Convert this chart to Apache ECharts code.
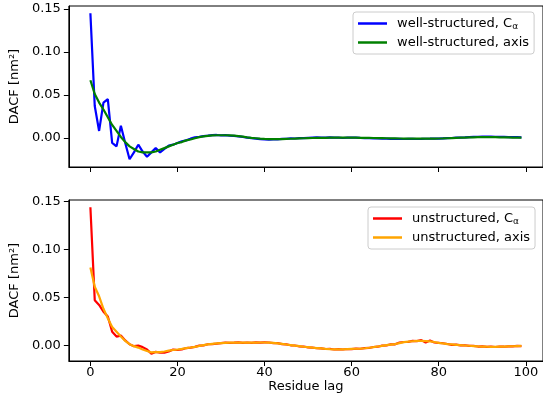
<!DOCTYPE html>
<html>
<head>
<meta charset="utf-8">
<script src="https://cdn.jsdelivr.net/npm/echarts@6/dist/echarts.min.js"></script>
<style>
html,body{margin:0;padding:0;background:#fff;}
#chart{width:543px;height:405px;}
</style>
</head>
<body>
<div id="chart"></div>
<script>
var xTicks = [0, 20, 40, 60, 80, 100];
var yTicks = [0, 0.05, 0.10, 0.15];

var wellCa = [0.145,0.037,0.008,0.041,0.045,-0.006,-0.010,0.014,-0.006,-0.025,
-0.017,-0.008,-0.016,-0.022,-0.017,-0.012,-0.017,-0.013,-0.009,-0.008,
-0.006,-0.004,-0.003,-0.001,0.0005,0.0012,0.002,0.0025,0.0032,0.0033,
0.0028,0.0031,0.0026,0.0022,0.0016,0.001,0.0003,-0.0004,-0.001,-0.0016,
-0.002,-0.0022,-0.002,-0.0018,-0.0013,-0.0011,-0.0006,-0.0008,-0.0003,-0.0004,
0.0,0.0002,0.0004,0.0003,0.0002,0.0005,0.0003,0.0001,-0.0002,0.0001,
0.0003,0.0002,-0.0001,-0.0003,-0.0004,-0.0006,-0.0008,-0.0009,-0.001,-0.0012,
-0.0013,-0.0012,-0.0014,-0.0013,-0.0012,-0.0014,-0.0013,-0.0011,-0.001,-0.0008,
-0.0009,-0.0006,-0.0003,-0.0002,0.0001,0.0003,0.0005,0.0008,0.001,0.0012,
0.0013,0.0014,0.0013,0.0012,0.001,0.0011,0.0009,0.0008,0.0007,0.0006];

var wellAxis = [0.067,0.051,0.041,0.033,0.024,0.015,0.008,0.001,-0.005,-0.010,
-0.013,-0.016,-0.017,-0.017,-0.017,-0.016,-0.014,-0.012,-0.010,-0.008,
-0.006,-0.005,-0.003,-0.002,-0.0005,0.0008,0.0017,0.0023,0.0028,0.003,
0.003,0.003,0.0028,0.0025,0.002,0.0013,0.0006,0.0,-0.0005,-0.001,
-0.0013,-0.0015,-0.0016,-0.0016,-0.0015,-0.0013,-0.0011,-0.0009,-0.0007,-0.0005,
-0.0003,-0.0002,-0.0001,0,0,0.0001,0.0001,0.0001,0.0001,0.0001,
0.0001,0.0001,0,0,-0.0001,-0.0002,-0.0003,-0.0004,-0.0005,-0.0006,
-0.0007,-0.0008,-0.0009,-0.001,-0.001,-0.001,-0.001,-0.001,-0.001,-0.0009,
-0.0008,-0.0007,-0.0005,-0.0003,-0.0001,0.0001,0.0003,0.0005,0.0006,0.0007,
0.0008,0.0008,0.0008,0.0007,0.0006,0.0005,0.0004,0.0003,0.0002,0.0001];

var unstrCa = [0.144,0.047,0.042,0.035,0.030,0.014,0.009,0.010,0.005,0.001,
-0.001,-0.0005,-0.002,-0.0045,-0.0088,-0.007,-0.0078,-0.0077,-0.0065,-0.0045,
-0.005,-0.0045,-0.003,-0.0025,-0.0018,-0.0005,-0.0002,0.001,0.0012,0.0016,
0.0022,0.0027,0.0024,0.0026,0.0029,0.0025,0.0028,0.0024,0.0029,0.0026,
0.003,0.0028,0.0022,0.0021,0.0011,0.0008,-0.0001,-0.0003,-0.0012,-0.0014,
-0.0023,-0.0025,-0.0032,-0.0033,-0.004,-0.0039,-0.0045,-0.0042,-0.0045,-0.004,
-0.0041,-0.0035,-0.0037,-0.003,-0.0029,-0.0019,-0.0016,-0.0005,-0.0002,0.0008,
0.0009,0.0028,0.0033,0.0035,0.0045,0.0043,0.0053,0.0028,0.0048,0.0028,
0.0024,0.002,0.0012,0.0004,0.0006,-0.0002,-0.0001,-0.0008,-0.0007,-0.0014,
-0.0013,-0.0018,-0.0016,-0.0019,-0.0014,-0.0016,-0.0012,-0.0012,-0.0008,-0.0009];

var unstrAxis = [0.081,0.061,0.051,0.038,0.028,0.019,0.014,0.009,0.0045,0.001,
-0.001,-0.0025,-0.0045,-0.006,-0.0075,-0.0073,-0.0072,-0.0066,-0.0057,-0.005,
-0.0045,-0.0038,-0.003,-0.0024,-0.0017,-0.0008,0.0,0.0008,0.0013,0.0018,
0.0022,0.0025,0.0026,0.0026,0.0026,0.0027,0.0026,0.0026,0.0027,0.0028,
0.0028,0.0027,0.0024,0.0019,0.0013,0.0007,0.0001,-0.0005,-0.001,-0.0016,
-0.0021,-0.0026,-0.003,-0.0034,-0.0038,-0.0041,-0.0043,-0.0044,-0.0043,-0.0041,
-0.0039,-0.0037,-0.0035,-0.0032,-0.0027,-0.0021,-0.0014,-0.0007,0.0,0.0006,
0.0012,0.0022,0.0032,0.0037,0.0041,0.0045,0.0046,0.0043,0.0039,0.0033,
0.0025,0.0018,0.0012,0.0008,0.0004,0.0,-0.0003,-0.0006,-0.0009,-0.0012,
-0.0014,-0.0016,-0.0017,-0.0017,-0.0016,-0.0015,-0.0013,-0.0011,-0.0009,-0.0008];

var seriesNames = ['well-structured, C\u03b1','well-structured, axis','unstructured, C\u03b1','unstructured, axis'];
var colors = ['#0000ff','#008000','#ff0000','#ffa500'];

function pairs(arr){ return arr.map(function(v,i){ return [i, v]; }); }

var FONT = 'DejaVu Sans';
var chart = echarts.init(document.getElementById('chart'), null, {renderer:'canvas'});

function xAx(idx, showLabels){
  return {
    type:'value', gridIndex: idx, min:-4.95, max:103.95,
    axisLine:{show:true, onZero:false, lineStyle:{color:'#000', width:1}},
    axisTick:{show:true, customValues:xTicks, length:5, lineStyle:{color:'#000', width:1}},
    axisLabel:{show:showLabels, customValues:xTicks, margin:5, color:'#000', fontSize:13, fontFamily:FONT},
    splitLine:{show:false},
    name: showLabels ? 'Residue lag' : '',
    nameLocation:'middle', nameGap:19,
    nameTextStyle:{color:'#000', fontSize:13, fontFamily:FONT}
  };
}
function yAx(idx, mn, mx){
  return {
    type:'value', gridIndex: idx, min:mn, max:mx,
    axisLine:{show:true, onZero:false, lineStyle:{color:'#000', width:1}},
    axisTick:{show:true, customValues:yTicks, length:5, lineStyle:{color:'#000', width:1}},
    axisLabel:{show:true, customValues:yTicks, margin:8, color:'#000', fontSize:13, fontFamily:FONT,
      formatter:function(v){ return v.toFixed(2); }},
    splitLine:{show:false},
    name:'DACF [nm\u00b2]', nameLocation:'middle', nameGap:44,
    nameTextStyle:{color:'#000', fontSize:13, fontFamily:FONT}
  };
}

function legendFmt(name){
  if (name.indexOf('\u03b1') >= 0) return name.replace('\u03b1','') + '{sub|\u03b1}';
  return name;
}
function legend(names, left, top){
  return {
    data: names, orient:'vertical', left:left, top:top,
    icon:'rect', itemWidth:29, itemHeight:2.5, itemGap:4,
    padding:[4,5,4,5],
    backgroundColor:'rgba(255,255,255,0.8)', borderColor:'#cccccc', borderWidth:1, borderRadius:3,
    formatter: legendFmt,
    textStyle:{color:'#000', fontSize:13, fontFamily:FONT, padding:[0,0,0,5], lineHeight:15,
      rich:{sub:{fontSize:9, fontFamily:FONT, color:'#000', padding:[6,0,0,0]}}}
  };
}

var option = {
  animation:false,
  backgroundColor:'#fff',
  grid:[
    {left:68, top:6, width:477, height:161, show:true, borderColor:'#000', borderWidth:1, containLabel:false},
    {left:68, top:200, width:477, height:161, show:true, borderColor:'#000', borderWidth:1, containLabel:false}
  ],
  xAxis:[xAx(0,false), xAx(1,true)],
  yAxis:[yAx(0,-0.034,0.1535), yAx(1,-0.0165,0.1515)],
  legend:[legend(seriesNames.slice(0,2),353,12), legend(seriesNames.slice(2,4),368,207)],
  series:[
    {name:seriesNames[0], type:'line', xAxisIndex:0, yAxisIndex:0, data:pairs(wellCa), showSymbol:false, color:colors[0], lineStyle:{width:2.2, color:colors[0]}},
    {name:seriesNames[1], type:'line', xAxisIndex:0, yAxisIndex:0, data:pairs(wellAxis), showSymbol:false, color:colors[1], lineStyle:{width:2.2, color:colors[1]}},
    {name:seriesNames[2], type:'line', xAxisIndex:1, yAxisIndex:1, data:pairs(unstrCa), showSymbol:false, color:colors[2], lineStyle:{width:2.2, color:colors[2]}},
    {name:seriesNames[3], type:'line', xAxisIndex:1, yAxisIndex:1, data:pairs(unstrAxis), showSymbol:false, color:colors[3], lineStyle:{width:2.2, color:colors[3]}}
  ]
};
chart.setOption(option);
</script>
</body>
</html>
